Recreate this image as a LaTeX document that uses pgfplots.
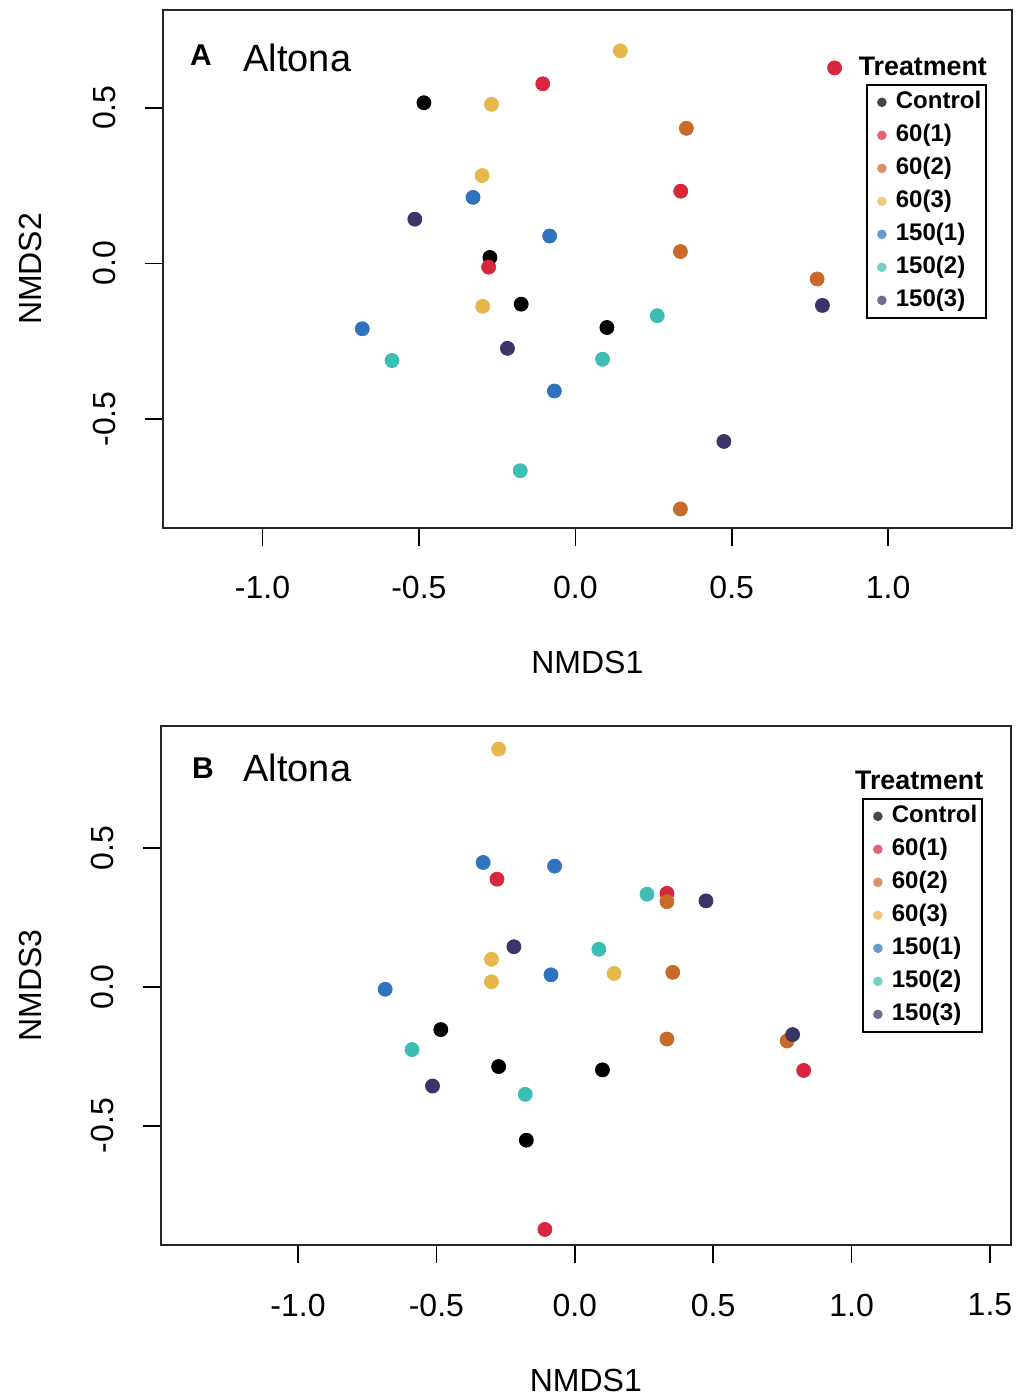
\documentclass[border=0pt]{standalone}
\usepackage{fontspec}
\setmainfont{Liberation Sans}
\usepackage{pgfplots}
\pgfplotsset{compat=1.18}
\definecolor{c601}{HTML}{D7263D}
\definecolor{c602}{HTML}{C86A28}
\definecolor{c603}{HTML}{E6B84C}
\definecolor{c1501}{HTML}{2F73BE}
\definecolor{c1502}{HTML}{3DBDB4}
\definecolor{c1503}{HTML}{3B3468}
\pgfplotsset{
  pt/.style={only marks, mark=*, mark size=3.5pt, color=#1,
    legend image code/.code={\path[draw=none, fill=none] (0pt,0pt) -- (12pt,0pt);\fill[#1, draw=none, opacity=0.72] (6.5pt,0pt) circle (2.4pt);}},
  nmds/.style={
    scale only axis,
    axis line style={line width=0.9pt, black!85},
    tick align=outside, tick pos=left, major tick length=9pt,
    tick style={line width=0.8pt, black},
    tick label style={font=\fontsize{16}{16}\selectfont},
    xticklabel style={anchor=center, yshift=-21pt},
    yticklabel style={anchor=center, xshift=-20pt, rotate=90},
    ytick={-0.5,0,0.5}, yticklabels={-0.5,0.0,0.5},
    label style={font=\fontsize{16}{16}\selectfont},
    xlabel style={at={(axis description cs:0.5,0)}, anchor=center, yshift=-67.5pt},
    legend style={draw=black, line width=0.8pt, font=\bfseries\fontsize{12}{12}\selectfont,
      inner xsep=1pt, inner ysep=1.5pt, row sep=2pt, cells={anchor=west},
      nodes={text height=9pt, text depth=2.5pt, inner sep=1.5pt}},
  }
}
\begin{document}
\begin{tikzpicture}
\useasboundingbox (0,0) rectangle (508pt,-698pt);
% ---------------- Panel A ----------------
\begin{axis}[nmds,
  at={(81.35pt,-5pt)}, anchor=north west,
  width=424.65pt, height=259pt,
  xmin=-1.319, xmax=1.396, ymin=-0.850, ymax=0.814,
  xtick={-1,-0.5,0,0.5,1}, xticklabels={-1.0,-0.5,0.0,0.5,1.0},
  xlabel={NMDS1}, ylabel={NMDS2},
  ylabel style={at={(axis description cs:-0.1554,0.5)}, anchor=center},
  legend style={at={(1,1)}, anchor=north east, xshift=-12.5pt, yshift=-37pt},
]
\addplot[pt=black] coordinates {(-0.484,0.516) (-0.273,0.019) (-0.173,-0.131) (0.101,-0.206)};
\addlegendentry{Control}
\addplot[pt=c601] coordinates {(-0.104,0.577) (0.337,0.232) (-0.277,-0.012) (0.829,0.628)};
\addlegendentry{60(1)}
\addplot[pt=c602] coordinates {(0.355,0.434) (0.336,0.038) (0.773,-0.050) (0.336,-0.789)};
\addlegendentry{60(2)}
\addplot[pt=c603] coordinates {(0.144,0.683) (-0.268,0.511) (-0.298,0.282) (-0.296,-0.138)};
\addlegendentry{60(3)}
\addplot[pt=c1501] coordinates {(-0.327,0.212) (-0.082,0.088) (-0.681,-0.210) (-0.067,-0.410)};
\addlegendentry{150(1)}
\addplot[pt=c1502] coordinates {(0.262,-0.168) (0.087,-0.308) (-0.586,-0.312) (-0.176,-0.666)};
\addlegendentry{150(2)}
\addplot[pt=c1503] coordinates {(-0.513,0.142) (-0.217,-0.273) (0.475,-0.572) (0.790,-0.135)};
\addlegendentry{150(3)}
\node[font=\bfseries\fontsize{15}{15}\selectfont] at (rel axis cs:0.045,0.913) {A};
\node[anchor=west, inner sep=0pt, font=\fontsize{19}{19}\selectfont] at (rel axis cs:0.0946,0.907) {Altona};
\node[font=\bfseries\fontsize{13.4}{13.4}\selectfont] at (rel axis cs:0.895,0.892) {Treatment};
\end{axis}
% ---------------- Panel B ----------------
\begin{axis}[nmds,
  at={(80.35pt,-363pt)}, anchor=north west,
  width=425.15pt, height=259.5pt,
  xmin=-1.496, xmax=1.576, ymin=-0.929, ymax=0.938,
  xtick={-1,-0.5,0,0.5,1,1.5}, xticklabels={-1.0,-0.5,0.0,0.5,1.0,1.5},
  xlabel={NMDS1}, ylabel={NMDS3},
  ylabel style={at={(axis description cs:-0.153,0.5)}, anchor=center},
  legend style={at={(1,1)}, anchor=north east, xshift=-14pt, yshift=-36pt},
]
\addplot[pt=black] coordinates {(-0.484,-0.154) (-0.275,-0.287) (0.100,-0.299) (-0.175,-0.552)};
\addlegendentry{Control}
\addplot[pt=c601] coordinates {(-0.281,0.387) (0.333,0.336) (0.827,-0.301) (-0.108,-0.873)};
\addlegendentry{60(1)}
\addplot[pt=c602] coordinates {(0.333,0.306) (0.354,0.052) (0.333,-0.188) (0.767,-0.195)};
\addlegendentry{60(2)}
\addplot[pt=c603] coordinates {(-0.275,0.855) (-0.301,0.099) (-0.301,0.018) (0.142,0.048)};
\addlegendentry{60(3)}
\addplot[pt=c1501] coordinates {(-0.331,0.447) (-0.073,0.434) (-0.086,0.043) (-0.685,-0.009)};
\addlegendentry{150(1)}
\addplot[pt=c1502] coordinates {(0.261,0.333) (0.087,0.135) (-0.588,-0.226) (-0.179,-0.387)};
\addlegendentry{150(2)}
\addplot[pt=c1503] coordinates {(0.474,0.309) (-0.220,0.144) (0.787,-0.172) (-0.514,-0.357)};
\addlegendentry{150(3)}
\node[font=\bfseries\fontsize{15}{15}\selectfont] at (rel axis cs:0.0497,0.919) {B};
\node[anchor=west, inner sep=0pt, font=\fontsize{19}{19}\selectfont] at (rel axis cs:0.0968,0.919) {Altona};
\node[font=\bfseries\fontsize{13.4}{13.4}\selectfont] at (rel axis cs:0.892,0.896) {Treatment};
\end{axis}
\end{tikzpicture}
\end{document}
